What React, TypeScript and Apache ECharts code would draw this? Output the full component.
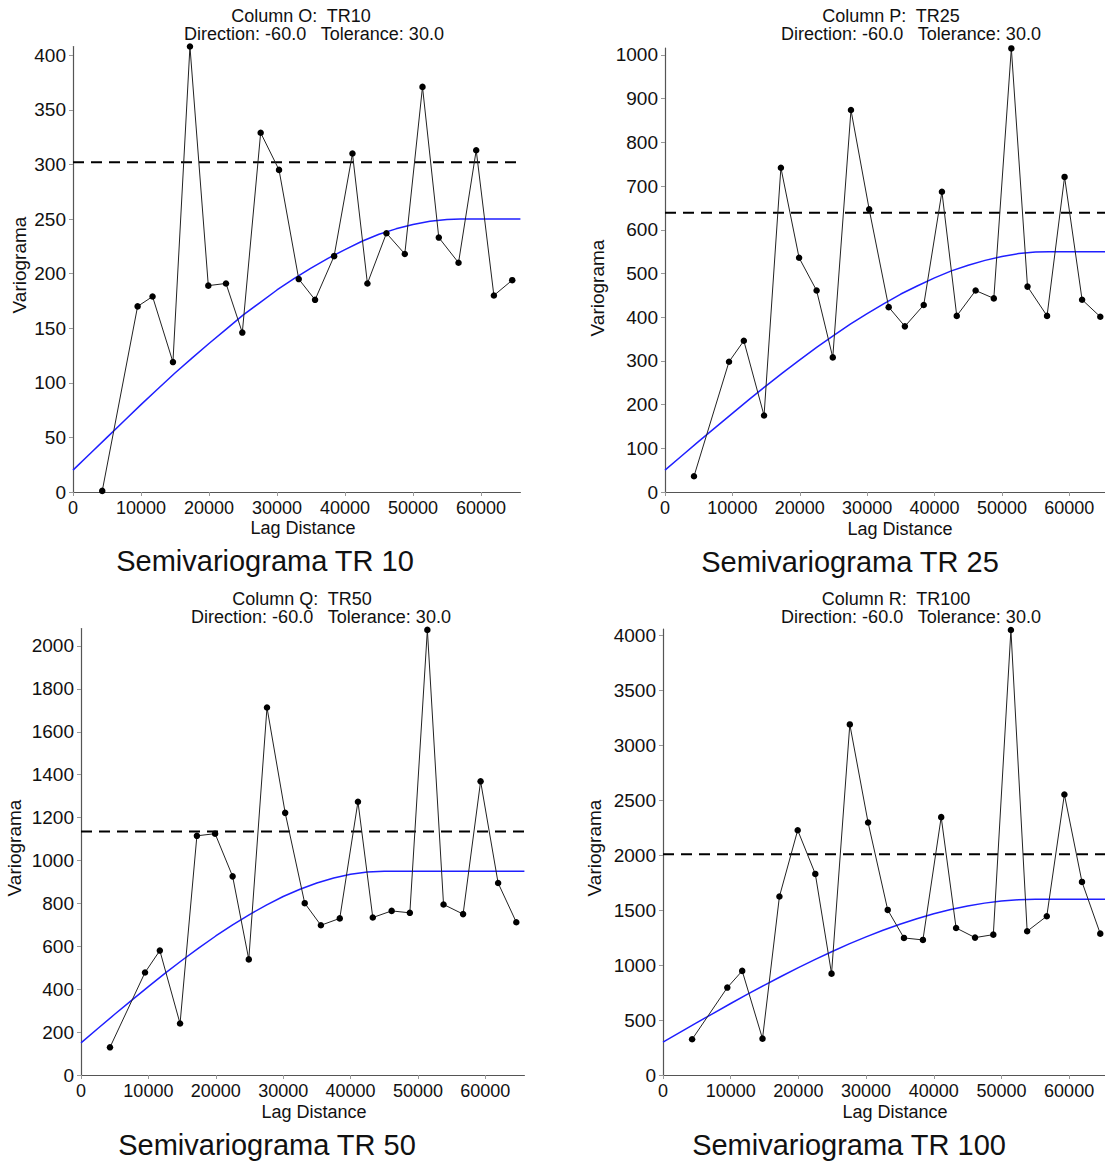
import React, { useEffect, useRef } from "react";
import * as echarts from "echarts";

// ---------- data ----------
const LAG_DISTANCE = [4300, 9500, 11700, 14700, 17200, 19900, 22500, 24900, 27600, 30300, 33200, 35600, 38400, 41100, 43300, 46100, 48800, 51400, 53800, 56700, 59300, 61900, 64600];

const TR10_VALUES = [1, 170, 179, 119, 408, 189, 191, 146, 329, 295, 195, 176, 216, 310, 191, 237, 218, 371, 233, 210, 313, 180, 194];
const TR25_VALUES = [36, 298, 346, 175, 742, 536, 461, 308, 874, 647, 423, 379, 428, 687, 403, 461, 443, 1015, 470, 403, 721, 440, 401];
const TR50_VALUES = [129, 478, 580, 240, 1115, 1125, 926, 539, 1713, 1222, 801, 698, 730, 1274, 734, 765, 756, 2075, 795, 750, 1369, 895, 712];
const TR100_VALUES = [325, 796, 948, 331, 1625, 2229, 1831, 923, 3192, 2299, 1503, 1248, 1230, 2348, 1339, 1251, 1278, 4052, 1309, 1446, 2554, 1758, 1287];

// model (blue) curves
const TR10_MODEL_X = [0, 2500, 5000, 7500, 10000, 12500, 15000, 17500, 20000, 22500, 25000, 27500, 30000, 32500, 35000, 37500, 40000, 42500, 45000, 47500, 50000, 52500, 55000, 57000, 65800];
const TR10_MODEL_Y = [20, 35, 50, 65, 80, 94.5, 109, 122.6, 136, 149, 162, 173.5, 185, 195.4, 205, 214, 222, 229.6, 236, 241, 245, 248, 249.6, 250, 250];
const TR25_MODEL_X = [0, 2500, 5000, 7500, 10000, 12500, 15000, 17500, 20000, 22500, 25000, 27500, 30000, 32500, 35000, 37500, 40000, 42500, 45000, 47500, 50000, 52500, 55000, 57000, 65300];
const TR25_MODEL_Y = [50, 83, 116, 148, 180, 212, 243, 273, 302.5, 331, 358, 384, 408, 431, 453, 472, 490, 506, 519, 530, 539, 545.5, 549, 550, 550];
const TR50_MODEL_X = [0, 2500, 5000, 7500, 10000, 12500, 15000, 17500, 20000, 22500, 25000, 27500, 30000, 32500, 35000, 37500, 40000, 42500, 45000, 65800];
const TR50_MODEL_Y = [150, 216.6, 283, 348, 412, 475, 535, 593, 648, 700, 748, 792, 832, 866, 895, 918.5, 936, 946.4, 950, 950];
const TR100_MODEL_X = [0, 2500, 5000, 7500, 10000, 12500, 15000, 17500, 20000, 22500, 25000, 27500, 30000, 32500, 35000, 37500, 40000, 42500, 45000, 47500, 50000, 52500, 55000, 65300];
const TR100_MODEL_Y = [300, 388.6, 477, 564, 651, 735.6, 819, 899.5, 977, 1053, 1125, 1194, 1258, 1318, 1373, 1423.5, 1469, 1507, 1539, 1565, 1584, 1596, 1600, 1600];

// sample variance (dashed)
const TR10_SILL = 302;
const TR25_SILL = 639;
const TR50_SILL = 1135;
const TR100_SILL = 2010;

// axis extents and tick labels
const TR10_Y_MAX = 408;
const TR25_Y_MAX = 1016;
const TR50_Y_MAX = 2081;
const TR100_Y_MAX = 4061;
const X_MAX_LEFT = 65800;
const X_MAX_RIGHT = 65300;

const X_TICKS = [0, 10000, 20000, 30000, 40000, 50000, 60000];
const TR10_Y_TICKS = [0, 50, 100, 150, 200, 250, 300, 350, 400];
const TR25_Y_TICKS = [0, 100, 200, 300, 400, 500, 600, 700, 800, 900, 1000];
const TR50_Y_TICKS = [0, 200, 400, 600, 800, 1000, 1200, 1400, 1600, 1800, 2000];
const TR100_Y_TICKS = [0, 500, 1000, 1500, 2000, 2500, 3000, 3500, 4000];

const TITLES_1 = ["Column O:  TR10", "Column P:  TR25", "Column Q:  TR50", "Column R:  TR100"];
const TITLE_2 = "Direction: -60.0   Tolerance: 30.0";
const CAPTIONS = ["Semivariograma TR 10", "Semivariograma TR 25", "Semivariograma TR 50", "Semivariograma TR 100"];
const X_NAME = "Lag Distance";
const Y_NAME = "Variograma";

// ---------- layout ----------
const FONT = '"Liberation Sans", Arial, Helvetica, sans-serif';

const PANELS = [
  {
    values: TR10_VALUES, mx: TR10_MODEL_X, my: TR10_MODEL_Y, sill: TR10_SILL,
    yMax: TR10_Y_MAX, yTicks: TR10_Y_TICKS, xMax: X_MAX_LEFT,
    grid: { left: 73, top: 46.5, width: 447.4, height: 445.5 },
    t1: [301, 16], t2: [314, 34], lag: [303, 528], cap: [265, 561], vn: [19, 265],
  },
  {
    values: TR25_VALUES, mx: TR25_MODEL_X, my: TR25_MODEL_Y, sill: TR25_SILL,
    yMax: TR25_Y_MAX, yTicks: TR25_Y_TICKS, xMax: X_MAX_RIGHT,
    grid: { left: 665, top: 48, width: 440, height: 444 },
    t1: [891, 16], t2: [911, 34], lag: [900, 529], cap: [850, 562], vn: [597, 288],
  },
  {
    values: TR50_VALUES, mx: TR50_MODEL_X, my: TR50_MODEL_Y, sill: TR50_SILL,
    yMax: TR50_Y_MAX, yTicks: TR50_Y_TICKS, xMax: X_MAX_LEFT,
    grid: { left: 81, top: 628.6, width: 443.4, height: 446.4 },
    t1: [302, 599], t2: [321, 617], lag: [314, 1112], cap: [267, 1145], vn: [14, 848],
  },
  {
    values: TR100_VALUES, mx: TR100_MODEL_X, my: TR100_MODEL_Y, sill: TR100_SILL,
    yMax: TR100_Y_MAX, yTicks: TR100_Y_TICKS, xMax: X_MAX_RIGHT,
    grid: { left: 663, top: 629, width: 442, height: 446 },
    t1: [896, 599], t2: [911, 617], lag: [895, 1112], cap: [849, 1145], vn: [594, 848],
  },
];

function txt(text: string, pos: number[], size: number, rotation = 0) {
  return {
    type: "text",
    x: pos[0],
    y: pos[1],
    rotation,
    silent: true,
    style: {
      text,
      font: `${size}px ${FONT}`,
      fill: "#111",
      align: "center",
      verticalAlign: "middle",
      textAlign: "center",
      textVerticalAlign: "middle",
    },
  };
}

export default function App() {
  const ref = useRef<HTMLDivElement>(null);

  useEffect(() => {
    document.body.style.margin = "0";
    if (!ref.current) return;
    const chart = echarts.init(ref.current, null, { renderer: "svg" });

    const grids: any[] = [];
    const xAxes: any[] = [];
    const yAxes: any[] = [];
    const series: any[] = [];
    const graphics: any[] = [];

    PANELS.forEach((p, i) => {
      grids.push({ ...p.grid, containLabel: false, outerBoundsMode: "none" });
      xAxes.push({
        type: "value",
        gridIndex: i,
        min: 0,
        max: p.xMax,
        interval: 10000,
        axisLine: { show: true, onZero: false, lineStyle: { color: "#555", width: 1.2 } },
        axisTick: { show: true, inside: false, length: 4, lineStyle: { color: "#999" }, customValues: X_TICKS },
        axisLabel: {
          show: true, margin: 7, color: "#111", fontSize: 18, fontFamily: FONT,
          customValues: X_TICKS, formatter: (v: number) => String(v),
        },
        splitLine: { show: false },
      });
      yAxes.push({
        type: "value",
        gridIndex: i,
        min: 0,
        max: p.yMax,
        axisLine: { show: true, onZero: false, lineStyle: { color: "#555", width: 1.2 } },
        axisTick: { show: true, inside: false, length: 4, lineStyle: { color: "#999" }, customValues: p.yTicks },
        axisLabel: {
          show: true, margin: 7, color: "#111", fontSize: 19, fontFamily: FONT,
          customValues: p.yTicks, formatter: (v: number) => String(v),
        },
        splitLine: { show: false },
      });

      series.push({
        type: "line",
        xAxisIndex: i,
        yAxisIndex: i,
        data: p.mx.map((x, k) => [x, p.my[k]]),
        showSymbol: false,
        smooth: false,
        lineStyle: { color: "#1f1fff", width: 1.5 },
        silent: true,
        z: 2,
      });
      series.push({
        type: "line",
        xAxisIndex: i,
        yAxisIndex: i,
        data: [[0, p.sill], [p.xMax, p.sill]],
        showSymbol: false,
        lineStyle: { color: "#000", width: 2, type: [11, 7] },
        silent: true,
        z: 3,
      });
      series.push({
        type: "line",
        xAxisIndex: i,
        yAxisIndex: i,
        data: LAG_DISTANCE.map((x, k) => [x, p.values[k]]),
        symbol: "circle",
        symbolSize: 6.5,
        showAllSymbol: true,
        itemStyle: { color: "#000" },
        lineStyle: { color: "#222", width: 1 },
        silent: true,
        z: 4,
      });

      graphics.push(txt(TITLES_1[i], p.t1, 18));
      graphics.push(txt(TITLE_2, p.t2, 18));
      graphics.push(txt(X_NAME, p.lag, 18));
      graphics.push(txt(CAPTIONS[i], p.cap, 29));
      graphics.push(txt(Y_NAME, p.vn, 19, Math.PI / 2));
    });

    chart.setOption({
      animation: false,
      backgroundColor: "#fff",
      grid: grids,
      xAxis: xAxes,
      yAxis: yAxes,
      series,
      graphic: { elements: graphics },
    });

    return () => chart.dispose();
  }, []);

  return <div ref={ref} style={{ width: 1105, height: 1163 }} />;
}
